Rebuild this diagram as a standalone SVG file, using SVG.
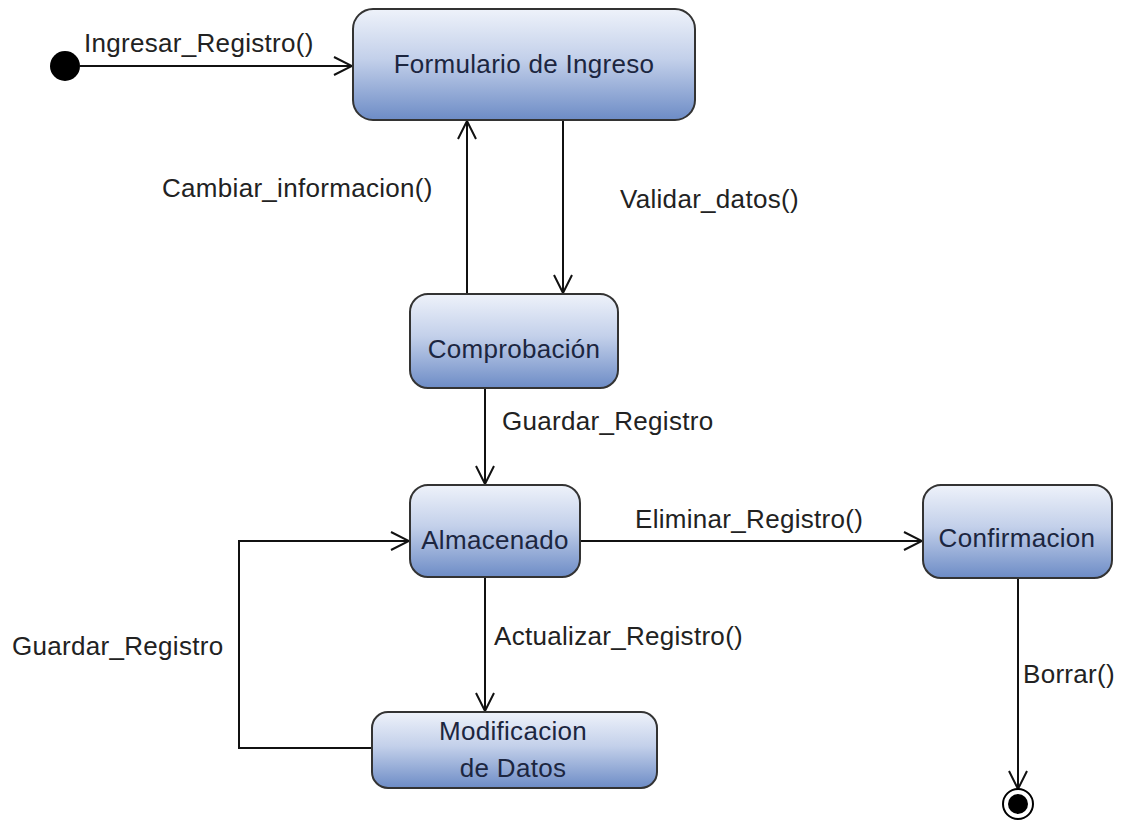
<svg xmlns="http://www.w3.org/2000/svg" width="1122" height="822" viewBox="0 0 1122 822">
  <defs>
    <linearGradient id="stateFill" x1="0" y1="0" x2="0" y2="1">
      <stop offset="0" stop-color="#eef2fa"/>
      <stop offset="0.45" stop-color="#c3d0ea"/>
      <stop offset="1" stop-color="#6d8cc6"/>
    </linearGradient>
    <marker id="open" viewBox="0 0 22 22" refX="21" refY="11" markerWidth="22" markerHeight="22" markerUnits="userSpaceOnUse" orient="auto">
      <path d="M3,2 L21,11 L3,20" fill="none" stroke="#111" stroke-width="2"/>
    </marker>
  </defs>
  <style>
    .state { fill: url(#stateFill); stroke: #333; stroke-width: 2; }
    .name { font-family: "Liberation Sans", Arial, sans-serif; font-size: 26px; letter-spacing: 0.3px; fill: #1c2640; text-anchor: middle; }
    .lbl { font-family: "Liberation Sans", Arial, sans-serif; font-size: 26px; letter-spacing: 0.3px; fill: #222; }
    .edge { fill: none; stroke: #111; stroke-width: 2; marker-end: url(#open); }
  </style>
  <rect width="1122" height="822" fill="#fff"/>

  <g id="connectors">
    <line class="edge" x1="80" y1="66" x2="352" y2="66"/>
    <line class="edge" x1="467" y1="294" x2="467" y2="121"/>
    <line class="edge" x1="563" y1="120" x2="563" y2="293"/>
    <line class="edge" x1="485" y1="388" x2="485" y2="484"/>
    <line class="edge" x1="580" y1="541" x2="922" y2="541"/>
    <line class="edge" x1="485" y1="577" x2="485" y2="711"/>
    <polyline class="edge" points="372,748 239,748 239,541 409,541"/>
    <line class="edge" x1="1018" y1="578" x2="1018" y2="789"/>
    <text class="lbl" x="84" y="52">Ingresar_Registro()</text>
    <text class="lbl" x="162" y="197">Cambiar_informacion()</text>
    <text class="lbl" x="620" y="208">Validar_datos()</text>
    <text class="lbl" x="502" y="430">Guardar_Registro</text>
    <text class="lbl" x="635" y="528">Eliminar_Registro()</text>
    <text class="lbl" x="12" y="655">Guardar_Registro</text>
    <text class="lbl" x="494" y="645">Actualizar_Registro()</text>
    <text class="lbl" x="1023" y="683">Borrar()</text>
  </g>

  <g id="initial">
    <circle cx="65" cy="66" r="15" fill="#000"/>
  </g>

  <g id="formulario">
    <rect class="state" x="353" y="9" width="342" height="111" rx="20"/>
    <text class="name" x="524" y="73">Formulario de Ingreso</text>
  </g>

  <g id="comprobacion">
    <rect class="state" x="410" y="294" width="208" height="94" rx="18"/>
    <text class="name" x="514" y="358">Comprobación</text>
  </g>

  <g id="almacenado">
    <rect class="state" x="410" y="485" width="170" height="92" rx="18"/>
    <text class="name" x="495" y="549">Almacenado</text>
  </g>

  <g id="confirmacion">
    <rect class="state" x="923" y="485" width="189" height="93" rx="18"/>
    <text class="name" x="1017" y="547">Confirmacion</text>
  </g>

  <g id="modificacion">
    <rect class="state" x="372" y="712" width="285" height="76" rx="16"/>
    <text class="name" x="513" y="740">Modificacion</text>
    <text class="name" x="513" y="777">de Datos</text>
  </g>

  <g id="final">
    <circle cx="1018" cy="804" r="15" fill="#fff" stroke="#000" stroke-width="2"/>
    <circle cx="1018" cy="804" r="10" fill="#000"/>
  </g>
</svg>
